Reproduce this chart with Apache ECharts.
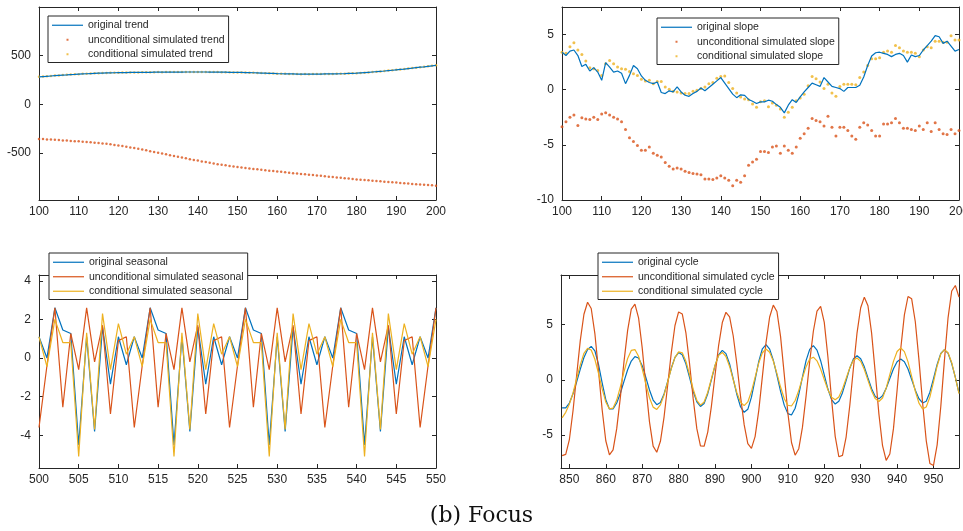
<!DOCTYPE html>
<html>
<head>
<meta charset="utf-8">
<script src="https://cdn.jsdelivr.net/npm/echarts@6.0.0/dist/echarts.min.js"></script>
<style>
html, body { margin: 0; padding: 0; background: #fff; }
#chart { width: 963px; height: 531px; }
</style>
</head>
<body>
<div id="chart"></div>
<script>
// trend panel, x = 100..200
const trendStart = 100;
const originalTrend = [
  280, 283, 286, 289, 292, 295, 298, 300, 303, 305,
  308, 310, 312, 314, 316, 318, 319, 320, 321, 322,
  323, 324, 324, 325, 325, 326, 326, 327, 327, 328,
  328, 328, 328, 329, 329, 329, 329, 330, 330, 330,
  330, 330, 330, 329, 329, 329, 328, 328, 327, 327,
  326, 325, 324, 323, 322, 321, 319, 318, 316, 315,
  313, 312, 311, 310, 310, 309, 309, 309, 309, 309,
  309, 309, 310, 310, 311, 311, 312, 313, 315, 316,
  318, 321, 324, 327, 330, 333, 337, 340, 344, 348,
  352, 356, 360, 365, 369, 374, 379, 383, 388, 393,
  398
];
const uncondTrend = [
  -355, -357, -360, -362, -364, -367, -370, -372, -375, -378,
  -380, -383, -386, -389, -393, -397, -401, -405, -410, -416,
  -422, -428, -435, -442, -449, -456, -464, -472, -480, -488,
  -497, -505, -513, -522, -530, -538, -546, -554, -562, -570,
  -577, -585, -592, -599, -606, -613, -619, -625, -631, -637,
  -642, -647, -652, -657, -662, -666, -671, -675, -680, -684,
  -688, -692, -697, -701, -705, -709, -713, -717, -721, -725,
  -729, -733, -737, -741, -745, -749, -753, -757, -761, -765,
  -769, -772, -776, -779, -783, -786, -789, -793, -796, -799,
  -802, -805, -809, -812, -815, -818, -821, -824, -827, -830,
  -833
];
const condTrend = [
  281, 283, 287, 289, 293, 295, 298, 301, 303, 306,
  308, 311, 312, 315, 316, 318, 320, 320, 322, 322,
  323, 324, 325, 325, 326, 326, 327, 327, 328, 328,
  329, 328, 329, 329, 330, 329, 330, 330, 331, 330,
  331, 330, 330, 330, 329, 329, 328, 328, 327, 326,
  326, 325, 324, 323, 321, 320, 319, 317, 316, 314,
  313, 312, 311, 310, 309, 309, 308, 309, 308, 309,
  309, 309, 309, 310, 310, 311, 312, 313, 314, 316,
  318, 320, 323, 326, 330, 333, 336, 340, 344, 348,
  352, 356, 361, 365, 370, 374, 379, 384, 388, 393,
  399
];

// slope panel, x = 100..200
const slopeStart = 100;
const originalSlope = [
  3.4, 3.1, 3.5, 3.6, 3.1, 2.1, 2.3, 1.7, 2.0, 1.6,
  0.85, 2.45, 2.05, 1.6, 1.7, 1.5, 0.55, 1.3, 2.2, 1.9,
  1.25, 0.85, 0.65, 0.55, 0.7, -0.25, -0.35, -0.1, -0.2, 0.25,
  -0.2, -0.5, -0.6, -0.35, -0.15, 0.15, -0.1, 0.2, 0.5, 0.8,
  1.1, 0.6, 0.1, -0.4, -0.72, -0.46, -0.52, -0.88, -1.05, -1.25,
  -1.1, -1.1, -0.95, -1.05, -1.35, -1.6, -2.1, -1.4, -0.9, -1.15,
  -0.65, -0.2, 0.2, 0.6, 0.45, 0.3, 1.1, 0.7, 0.3, 0.2,
  0.1, -0.15, 0.2, 0.2, 0.2, 0.4, 1.15, 2.2, 3.05, 3.35,
  3.4, 3.3, 3.2, 3.0, 3.2, 3.3, 3.1, 2.5, 3.15, 3.0,
  3.1, 3.6, 4.0, 4.4, 4.9, 4.8, 4.2, 4.4, 3.95, 3.5,
  3.65
];
const uncondSlope = [
  -3.35, -2.9, -2.5, -2.3, -3.25, -2.55, -2.65, -2.7, -2.5, -2.7,
  -2.2, -2.1, -2.3, -2.5, -2.65, -2.9, -3.6, -4.35, -4.7, -5.05,
  -5.5, -5.5, -5.2, -5.75, -5.95, -6.1, -6.6, -6.95, -7.2, -7.1,
  -7.2, -7.4, -7.5, -7.6, -7.65, -7.7, -8.1, -8.1, -8.15, -8.0,
  -7.8, -8.0, -8.2, -8.7, -8.2, -8.4, -7.8, -6.85, -6.55, -6.3,
  -5.6, -5.6, -5.7, -5.2, -5.1, -5.75, -5.1, -5.5, -5.75, -5.2,
  -4.4, -4.0, -3.5, -2.6, -2.8, -2.9, -3.3, -2.4, -3.4, -4.2,
  -3.4, -3.4, -3.7, -4.2, -4.5, -3.4, -3.0, -3.2, -3.7, -4.2,
  -4.2, -3.1, -3.1, -3.0, -2.6, -3.0, -3.5, -3.5, -3.6, -3.7,
  -3.3, -3.6, -3.0, -3.8, -3.0, -3.6, -4.0, -4.05, -3.6, -4.0,
  -3.7
];
const condSlope = [
  3.4, 3.3, 3.9, 4.25, 3.6, 3.2, 2.6, 2.0, 1.9, 1.75,
  1.3, 2.35, 2.65, 2.35, 2.05, 1.9, 1.85, 1.65, 1.45, 1.3,
  0.95, 0.8, 0.85, 0.55, 0.75, 0.75, 0.25, 0.05, -0.15, -0.2,
  -0.3, -0.35, -0.35, -0.15, -0.05, 0.1, 0.25, 0.55, 0.65, 1.05,
  1.2, 1.25, 0.65, 0.1, -0.3, -0.65, -0.85, -0.9, -1.3, -1.6,
  -1.1, -1.0, -1.55, -1.2, -1.4, -1.75, -2.5, -2.05, -1.6, -1.0,
  -0.75, -0.4, 0.35, 1.2, 1.0, 0.7, 0.1, 0.5, -0.3, -0.6,
  0.3, 0.5, 0.5, 0.5, 0.45, 1.1, 1.6, 2.2, 2.8, 2.8,
  2.9, 3.4, 3.5, 3.4, 4.0, 3.8, 3.5, 3.4, 3.4, 3.3,
  3.0, 3.6, 3.9, 3.8, 4.4, 4.4, 4.3, 4.3, 4.9, 4.5,
  4.5
];

// seasonal panel, x = 500..550
const seasonalStart = 500;
const originalSeasonal = [
  1.1, 0.0, 2.6, 1.45, 1.27, -4.5, 1.1, -3.8, 1.6, -1.35, 1.1, -0.35,
  1.1, 0.0, 2.6, 1.45, 1.27, -4.5, 1.1, -3.8, 1.6, -1.35, 1.1, -0.35,
  1.1, 0.0, 2.6, 1.45, 1.27, -4.5, 1.1, -3.8, 1.6, -1.35, 1.1, -0.35,
  1.1, 0.0, 2.6, 1.45, 1.27, -4.5, 1.1, -3.8, 1.6, -1.35, 1.1, -0.35,
  1.1, 0.0, 2.6
];
const uncondSeasonal = [
  -3.6, -0.4, 2.6, -2.55, 1.27, -0.6, 2.6, -0.2, 1.7, -2.9, 0.9, 1.1,
  -3.6, -0.4, 2.6, -2.55, 1.27, -0.6, 2.6, -0.2, 1.7, -2.9, 0.9, 1.1,
  -3.6, -0.4, 2.6, -2.55, 1.27, -0.6, 2.6, -0.2, 1.7, -2.9, 0.9, 1.1,
  -3.6, -0.4, 2.6, -2.55, 1.27, -0.6, 2.6, -0.2, 1.7, -2.9, 0.9, 1.1,
  -3.6, -0.4, 2.6
];
const condSeasonal = [
  1.1, -0.45, 2.0, 0.8, 0.8, -5.1, 1.3, -3.7, 2.3, -0.6, 1.78, 0.2,
  1.1, -0.45, 2.0, 0.8, 0.8, -5.1, 1.3, -3.7, 2.3, -0.6, 1.78, 0.2,
  1.1, -0.45, 2.0, 0.8, 0.8, -5.1, 1.3, -3.7, 2.3, -0.6, 1.78, 0.2,
  1.1, -0.45, 2.0, 0.8, 0.8, -5.1, 1.3, -3.7, 2.3, -0.6, 1.78, 0.2,
  1.1, -0.45, 2.0
];

// cycle panel, x = 848..957
const cycleStart = 848;
const originalCycle = [
  -2.55, -2.54, -2.11, -1.28, -0.18, 0.98, 2.02, 2.74, 3.03, 2.63,
  1.39, -0.28, -1.8, -2.65, -2.64, -2.11, -1.22, -0.14, 0.91, 1.7,
  2.1, 1.97, 1.28, 0.21, -0.93, -1.84, -2.26, -2.07, -1.29, -0.14,
  1.07, 2.03, 2.47, 2.26, 1.44, 0.22, -1.04, -2.0, -2.42, -2.15,
  -1.26, -0.01, 1.28, 2.26, 2.67, 2.37, 1.43, 0.07, -1.35, -2.45,
  -2.95, -2.68, -1.58, 0.02, 1.64, 2.81, 3.18, 2.78, 1.78, 0.41,
  -1.05, -2.3, -3.07, -3.2, -2.58, -1.32, 0.24, 1.74, 2.76, 3.09,
  2.69, 1.73, 0.45, -0.84, -1.8, -2.2, -1.95, -1.17, -0.07, 1.05,
  1.88, 2.18, 1.91, 1.17, 0.17, -0.81, -1.51, -1.73, -1.45, -0.78,
  0.12, 1.0, 1.64, 1.88, 1.64, 0.97, 0.03, -0.94, -1.72, -2.1,
  -1.94, -1.13, 0.11, 1.4, 2.38, 2.73, 2.39, 1.47, 0.22, -1.2
];
const uncondCycle = [
  -6.88, -6.77, -5.42, -2.81, 0.41, 3.57, 5.94, 7.03, 6.46, 4.19,
  0.83, -2.72, -5.53, -6.81, -6.35, -4.43, -1.6, 1.65, 4.48, 6.41,
  6.86, 5.62, 2.89, -0.55, -3.82, -6.02, -6.57, -5.58, -3.38, -0.47,
  2.49, 4.92, 6.15, 5.97, 4.26, 1.47, -1.71, -4.43, -5.99, -6.03,
  -4.74, -2.41, 0.41, 3.15, 5.19, 6.12, 5.7, 3.97, 1.41, -1.51,
  -4.07, -5.8, -6.22, -5.15, -2.82, 0.28, 3.37, 5.69, 6.77, 6.19,
  3.91, 0.51, -3.0, -5.69, -6.84, -6.25, -4.32, -1.48, 1.65, 4.4,
  6.23, 6.66, 5.2, 2.07, -1.76, -5.13, -6.98, -6.86, -5.19, -2.36,
  1.02, 4.26, 6.53, 7.49, 6.71, 4.23, 0.65, -3.09, -5.98, -7.31,
  -6.73, -4.43, -0.95, 2.81, 5.88, 7.55, 7.34, 5.26, 1.83, -2.08,
  -5.51, -7.59, -7.77, -5.9, -2.42, 1.78, 5.64, 8.05, 8.55, 7.5
];
const condCycle = [
  -3.45, -2.95, -2.2, -1.2, 0.1, 1.35, 2.4, 2.85, 2.7, 1.86,
  0.59, -0.83, -2.01, -2.64, -2.57, -1.84, -0.64, 0.73, 1.93, 2.66,
  2.74, 2.13, 0.99, -0.37, -1.63, -2.48, -2.69, -2.28, -1.38, -0.19,
  1.03, 2.03, 2.53, 2.45, 1.68, 0.48, -0.85, -1.86, -2.3, -2.02,
  -1.13, 0.09, 1.32, 2.21, 2.48, 2.11, 1.21, 0.0, -1.18, -2.03,
  -2.35, -2.01, -1.07, 0.22, 1.51, 2.45, 2.79, 2.5, 1.7, 0.56,
  -0.66, -1.7, -2.31, -2.38, -1.88, -0.96, 0.16, 1.19, 1.88, 2.05,
  1.72, 0.97, 0.02, -0.9, -1.59, -1.82, -1.56, -0.84, 0.12, 1.08,
  1.76, 1.97, 1.67, 0.93, -0.05, -1.01, -1.71, -1.97, -1.65, -0.76,
  0.46, 1.67, 2.56, 2.88, 2.55, 1.62, 0.31, -1.04, -2.12, -2.64,
  -2.47, -1.57, -0.19, 1.25, 2.34, 2.73, 2.45, 1.55, 0.2, -1.25
];

const blue = '#0072BD';
const red = '#D95319';
const yellow = '#EDB120';
const ink = '#262626';
// legend glyphs: corners pinned at 0,0 and 31,10 so the mark keeps its size
const dotIcon = 'path://M0,0M31,10M14.5,4h2v2h-2z';
const lineIcon = 'path://M0,0M31,10M0,4.4h31v1.2h-31z';

function pairs(start, values) {
  return values.map((v, i) => [start + i, v]);
}

// a bottom/left axis with labels plus a bare top/right twin to close the box
function boxAxes(dim, grid, min, max, step, showMin, showMax) {
  const main = {
    type: 'value',
    gridIndex: grid,
    min: min,
    max: max,
    minInterval: step,
    maxInterval: step,
    position: dim === 'x' ? 'bottom' : 'left',
    axisLine: { show: true, onZero: false, lineStyle: { color: ink, width: 1 } },
    axisTick: { show: true, inside: true, length: 4, lineStyle: { color: ink } },
    axisLabel: {
      margin: dim === 'x' ? 6 : 8,
      showMinLabel: showMin,
      showMaxLabel: showMax,
      fontFamily: 'Liberation Sans',
      fontSize: 12,
      color: ink
    },
    splitLine: { show: false }
  };
  const twin = Object.assign({}, main, {
    position: dim === 'x' ? 'top' : 'right',
    axisLabel: { show: false }
  });
  return [main, twin];
}

function legendAt(left, top, items) {
  return {
    data: items,
    left: left,
    top: top,
    orient: 'vertical',
    itemWidth: 31,
    itemHeight: 10,
    itemGap: 0,
    padding: [2, 4, 1, 4],
    borderColor: ink,
    borderWidth: 1,
    borderRadius: 0,
    backgroundColor: '#fff',
    selectedMode: false,
    textStyle: { fontFamily: 'Liberation Sans', fontSize: 10.5, color: ink, lineHeight: 14.5 }
  };
}

function lineSeries(name, axis, start, values, color) {
  return {
    name: name, type: 'line', xAxisIndex: axis, yAxisIndex: axis,
    data: pairs(start, values), symbol: 'none', showSymbol: false,
    lineStyle: { color: color, width: 1.2 }, itemStyle: { color: color }
  };
}

function dotSeries(name, axis, start, values, color, size) {
  return {
    name: name, type: 'scatter', xAxisIndex: axis, yAxisIndex: axis,
    data: pairs(start, values), symbol: 'circle', symbolSize: size,
    itemStyle: { color: color, borderWidth: 0 }
  };
}

const chart = echarts.init(document.getElementById('chart'), null, { renderer: 'canvas' });
chart.setOption({
  animation: false,
  backgroundColor: '#fff',
  title: {
    text: '(b) Focus',
    left: 'center',
    top: 505,
    padding: 0,
    textStyle: { fontFamily: 'DejaVu Serif', fontSize: 22, fontWeight: 'normal', color: '#111' }
  },
  grid: [
    { left: 39, top: 7, width: 397, height: 193, outerBoundsMode: 'none' },
    { left: 562, top: 7, width: 397, height: 193, outerBoundsMode: 'none' },
    { left: 39, top: 275, width: 397, height: 193, outerBoundsMode: 'none' },
    { left: 561, top: 275, width: 398, height: 193, outerBoundsMode: 'none' }
  ],
  xAxis: [].concat(
    boxAxes('x', 0, 100, 200, 10, true, true),
    boxAxes('x', 1, 100, 200, 10, true, true),
    boxAxes('x', 2, 500, 550, 5, true, true),
    boxAxes('x', 3, 847.7, 957, 10, false, false)
  ),
  yAxis: [].concat(
    boxAxes('y', 0, -980, 995, 500, false, false),
    boxAxes('y', 1, -10, 7.5, 5, true, false),
    boxAxes('y', 2, -5.7, 4.3, 2, false, false),
    boxAxes('y', 3, -8, 9.5, 5, false, false)
  ),
  legend: [
    legendAt(48, 16, [
      { name: 'original trend', icon: lineIcon },
      { name: 'unconditional simulated trend', icon: dotIcon },
      { name: 'conditional simulated trend', icon: dotIcon }
    ]),
    legendAt(657, 18, [
      { name: 'original slope', icon: lineIcon },
      { name: 'unconditional simulated slope', icon: dotIcon },
      { name: 'conditional simulated slope', icon: dotIcon }
    ]),
    legendAt(49, 253, [
      { name: 'original seasonal', icon: lineIcon },
      { name: 'unconditional simulated seasonal', icon: lineIcon },
      { name: 'conditional simulated seasonal', icon: lineIcon }
    ]),
    legendAt(598, 253, [
      { name: 'original cycle', icon: lineIcon },
      { name: 'unconditional simulated cycle', icon: lineIcon },
      { name: 'conditional simulated cycle', icon: lineIcon }
    ])
  ],
  series: [
    lineSeries('original trend', 0, trendStart, originalTrend, blue),
    dotSeries('unconditional simulated trend', 0, trendStart, uncondTrend, red, 2.5),
    dotSeries('conditional simulated trend', 0, trendStart, condTrend, yellow, 2.5),

    lineSeries('original slope', 2, slopeStart, originalSlope, blue),
    dotSeries('unconditional simulated slope', 2, slopeStart, uncondSlope, red, 3),
    dotSeries('conditional simulated slope', 2, slopeStart, condSlope, yellow, 3),

    lineSeries('original seasonal', 4, seasonalStart, originalSeasonal, blue),
    lineSeries('unconditional simulated seasonal', 4, seasonalStart, uncondSeasonal, red),
    lineSeries('conditional simulated seasonal', 4, seasonalStart, condSeasonal, yellow),

    lineSeries('original cycle', 6, cycleStart, originalCycle, blue),
    lineSeries('unconditional simulated cycle', 6, cycleStart, uncondCycle, red),
    lineSeries('conditional simulated cycle', 6, cycleStart, condCycle, yellow)
  ]
});
</script>
</body>
</html>
